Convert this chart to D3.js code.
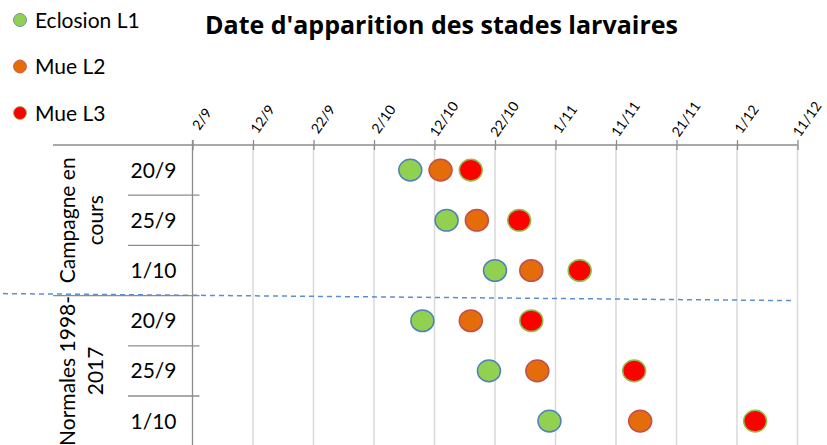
<!DOCTYPE html>
<html>
<head>
<meta charset="utf-8">
<script src="https://cdn.jsdelivr.net/npm/d3@7"></script>
<style>
  body { margin: 0; background: #fff; }
  svg { font-family: Lato, "Noto Sans", sans-serif; }
</style>
</head>
<body>
<div id="chart"></div>
<script>
const title = "Date d'apparition des stades larvaires";
const stages = ["Eclosion L1", "Mue L2", "Mue L3"];
const groups = [["Campagne en", "cours"], ["Normales 1998-", "2017"]];
const sowingDates = ["20/9", "25/9", "1/10"];
const tickLabels = ["2/9", "12/9", "22/9", "2/10", "12/10", "22/10", "1/11", "11/11", "21/11", "1/12", "11/12"];

// one value per row: 3 sowing dates of the current campaign, then 3 of the 1998-2017 normals
const eclosionL1 = ["8/10", "14/10", "22/10", "10/10", "21/10", "31/10"];
const mueL2 = ["13/10", "19/10", "28/10", "18/10", "29/10", "15/11"];
const mueL3 = ["18/10", "26/10", "5/11", "28/10", "14/11", "4/12"];

const fills = ["#92d050", "#e46c0a", "#ff0000"];
const strokes = ["#4f81bd", "#c0504d", "#8fbf4f"];

const width = 827, height = 445;
const margin = {top: 145, left: 192.5, right: 29.5};

const parse = s => {
  const [d, m] = s.split("/").map(Number);
  return new Date(2018, m - 1, d);
};

const svg = d3.select("#chart")
  .append("svg")
    .attr("width", width)
    .attr("height", height);

const x = d3.scaleTime()
  .domain([parse(tickLabels[0]), parse(tickLabels[tickLabels.length - 1])])
  .range([margin.left, width - margin.right]);

const rows = d3.cross(groups.map((g, i) => i), sowingDates).map(([g, s]) => `${g}-${s}`);
const y = d3.scaleBand()
  .domain(rows)
  .range([margin.top, margin.top + 50.2 * rows.length]);

const ticks = tickLabels.map(parse);

// grid
svg.append("g")
  .selectAll("line")
  .data(ticks.slice(1))
  .join("line")
    .attr("x1", d => x(d))
    .attr("x2", d => x(d))
    .attr("y1", margin.top)
    .attr("y2", height)
    .attr("stroke", "#d9d9d9")
    .attr("stroke-width", 1.5);

// top axis
const xAxis = d3.axisTop(x)
  .tickValues(ticks)
  .tickSize(5)
  .tickFormat((d, i) => tickLabels[i]);

const gx = svg.append("g")
  .attr("transform", `translate(0, ${margin.top})`)
  .call(xAxis);

gx.select(".domain").remove();
gx.selectAll(".tick line")
  .attr("y2", -5)
  .attr("y1", 5)
  .attr("stroke", "#8c8c8c")
  .attr("stroke-width", 1.3);
gx.selectAll(".tick text")
  .attr("y", 0)
  .attr("dy", "0.35em")
  .attr("text-anchor", "middle")
  .attr("transform", "translate(9, -26) rotate(-55)")
  .attr("fill", "#000")
  .style("font-size", "14px")
  .style("font-family", "Lato");

svg.append("line")
  .attr("x1", 53)
  .attr("x2", width - margin.right)
  .attr("y1", margin.top)
  .attr("y2", margin.top)
  .attr("stroke", "#8c8c8c")
  .attr("stroke-width", 1.3);

// y axis
svg.append("line")
  .attr("x1", margin.left)
  .attr("x2", margin.left)
  .attr("y1", margin.top - 5)
  .attr("y2", height)
  .attr("stroke", "#8c8c8c")
  .attr("stroke-width", 1.3);

// row separators
svg.append("g")
  .selectAll("line")
  .data(rows.slice(1))
  .join("line")
    .attr("x1", (d, i) => (i + 1) % sowingDates.length === 0 ? 53 : 128)
    .attr("x2", margin.left + 7)
    .attr("y1", d => y(d))
    .attr("y2", d => y(d))
    .attr("stroke", "#8c8c8c")
    .attr("stroke-width", 1.3);

svg.append("g")
  .selectAll("text")
  .data(rows)
  .join("text")
    .text((d, i) => sowingDates[i % sowingDates.length])
    .attr("x", 153.5)
    .attr("y", d => y(d) + y.bandwidth() / 2)
    .attr("dy", "0.36em")
    .attr("text-anchor", "middle")
    .style("font-size", "21px");

// group labels
const groupLabels = svg.append("g")
  .selectAll("text")
  .data(groups)
  .join("text")
    .attr("text-anchor", "middle")
    .attr("transform", (d, i) => {
      const y0 = y(`${i}-${sowingDates[0]}`);
      const y1 = y(`${i}-${sowingDates[sowingDates.length - 1]}`) + y.bandwidth();
      return `translate(89, ${(y0 + y1) / 2}) rotate(-90)`;
    })
    .style("font-size", "21px");

groupLabels.selectAll("tspan")
  .data(d => d)
  .join("tspan")
    .attr("x", 0)
    .attr("y", (d, i) => i === 0 ? -14 : 14)
    .text(d => d);

// separator between campaign and normals
const yb = y(`1-${sowingDates[0]}`);
svg.append("line")
  .attr("x1", 3)
  .attr("x2", 792)
  .attr("y1", yb - 2)
  .attr("y2", yb + 5)
  .attr("stroke", "#5b8fd0")
  .attr("stroke-width", 1.5)
  .attr("stroke-dasharray", "5 4");

// points
const series = [eclosionL1, mueL2, mueL3];
series.forEach((values, s) => {
  svg.append("g")
    .selectAll("ellipse")
    .data(values)
    .join("ellipse")
      .attr("cx", d => x(parse(d)))
      .attr("cy", (d, i) => y(rows[i]) + y.bandwidth() / 2)
      .attr("rx", 11.5)
      .attr("ry", 10.8)
      .attr("fill", fills[s])
      .attr("stroke", strokes[s])
      .attr("stroke-width", 1.5);
});

// legend
const legend = svg.append("g")
  .selectAll("g")
  .data(stages)
  .join("g")
    .attr("transform", (d, i) => `translate(20, ${20 + i * 46.5})`);

legend.append("circle")
  .attr("r", 6.5)
  .attr("fill", (d, i) => fills[i])
  .attr("stroke", (d, i) => strokes[i])
  .attr("stroke-width", 0.8);

legend.append("text")
  .text(d => d)
  .attr("x", 15)
  .attr("y", 7.5)
  .style("font-size", "21px");

// title
svg.append("text")
  .text(title)
  .attr("x", 441.5)
  .attr("y", 34)
  .attr("text-anchor", "middle")
  .style("font-family", "'Open Sans', Lato, sans-serif")
  .style("font-weight", "bold")
  .style("font-size", "25px");
</script>
</body>
</html>
